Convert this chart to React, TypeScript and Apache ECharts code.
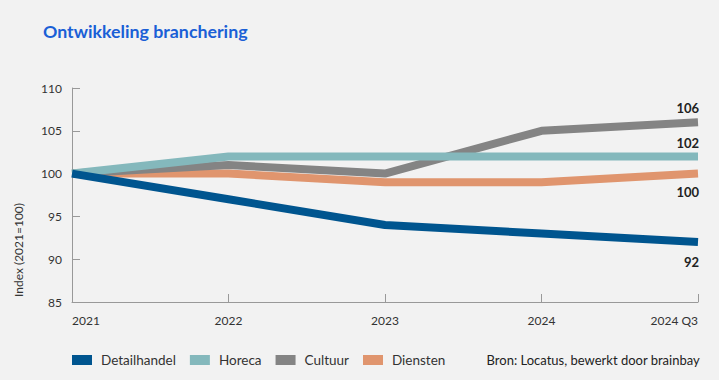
import React, { useEffect, useRef } from "react";
import * as echarts from "echarts";

const categories = ["2021", "2022", "2023", "2024", "2024 Q3"];
const detailhandel = [100, 97, 94, 93, 92];
const horeca = [100, 102, 102, 102, 102];
const cultuur = [100, 101, 100, 105, 106];
const diensten = [100, 100, 99, 99, 100];
const yTicks = { min: 85, max: 110, interval: 5 };

const FONT = "Lato";

export default function App() {
  const ref = useRef<HTMLDivElement>(null);
  useEffect(() => {
    document.body.style.margin = "0";
    if (!ref.current) return;
    const chart = echarts.init(ref.current, undefined, { renderer: "svg" });
    const mk = (name: string, data: number[], color: string, dy: number) => ({
      name,
      type: "line",
      data,
      symbol: "none",
      lineStyle: { width: 8, color },
      itemStyle: { color },
      endLabel: {
        show: true,
        distance: 0,
        align: "right",
        verticalAlign: "middle",
        offset: [1, dy],
        formatter: (p: any) => String(p.value),
        fontFamily: FONT,
        fontWeight: "bold",
        fontSize: 13,
        color: "#222",
      },
      z: 2,
    });
    chart.setOption({
      animation: false,
      backgroundColor: "#f2f2f2",
      textStyle: { fontFamily: FONT },
      title: {
        text: "Ontwikkeling branchering",
        left: 43,
        top: 22,
        padding: 0,
        textStyle: { fontFamily: FONT, fontWeight: "bold", fontSize: 17.8, color: "#1a5fd6" },
      },
      grid: { left: 72, right: 21, top: 88, bottom: 78, containLabel: false },
      legend: {
        left: 72,
        top: 353,
        padding: 0,
        itemWidth: 20,
        itemHeight: 10,
        itemGap: 14,
        icon: "rect",
        textStyle: { fontFamily: FONT, fontSize: 13.5, color: "#333", padding: [0, 0, 0, 4] },
        data: ["Detailhandel", "Horeca", "Cultuur", "Diensten"],
      },
      xAxis: {
        type: "category",
        data: categories,
        boundaryGap: false,
        axisLine: { lineStyle: { color: "#999" } },
        axisTick: { inside: true, length: 8, lineStyle: { color: "#999" } },
        axisLabel: {
          color: "#333",
          fontSize: 12,
          fontFamily: FONT,
          margin: 12,
          alignMinLabel: "left",
          alignMaxLabel: "right",
        },
      },
      yAxis: {
        type: "value",
        min: yTicks.min,
        max: yTicks.max,
        interval: yTicks.interval,
        splitLine: { show: false },
        axisLine: { show: true, lineStyle: { color: "#999" } },
        axisTick: { show: true, inside: true, length: 8, lineStyle: { color: "#999" } },
        axisLabel: { color: "#333", fontSize: 12, fontFamily: FONT, margin: 10 },
      },
      graphic: [
        {
          type: "text",
          x: 18,
          y: 250,
          rotation: Math.PI / 2,
          style: {
            text: "Index (2021=100)",
            fontFamily: FONT,
            fontSize: 12,
            fill: "#333",
            align: "center",
            verticalAlign: "middle",
          },
        },
        {
          type: "text",
          right: 19,
          top: 353,
          style: {
            text: "Bron: Locatus, bewerkt door brainbay",
            fontFamily: FONT,
            fontSize: 13,
            fill: "#222",
          },
        },
      ],
      series: [
        mk("Diensten", diensten, "#e0956e", 18),
        mk("Cultuur", cultuur, "#848484", -14),
        mk("Horeca", horeca, "#84b8bc", -13),
        mk("Detailhandel", detailhandel, "#00558f", 20),
      ],
    });
    return () => chart.dispose();
  }, []);
  return <div ref={ref} style={{ width: 719, height: 380 }} />;
}
